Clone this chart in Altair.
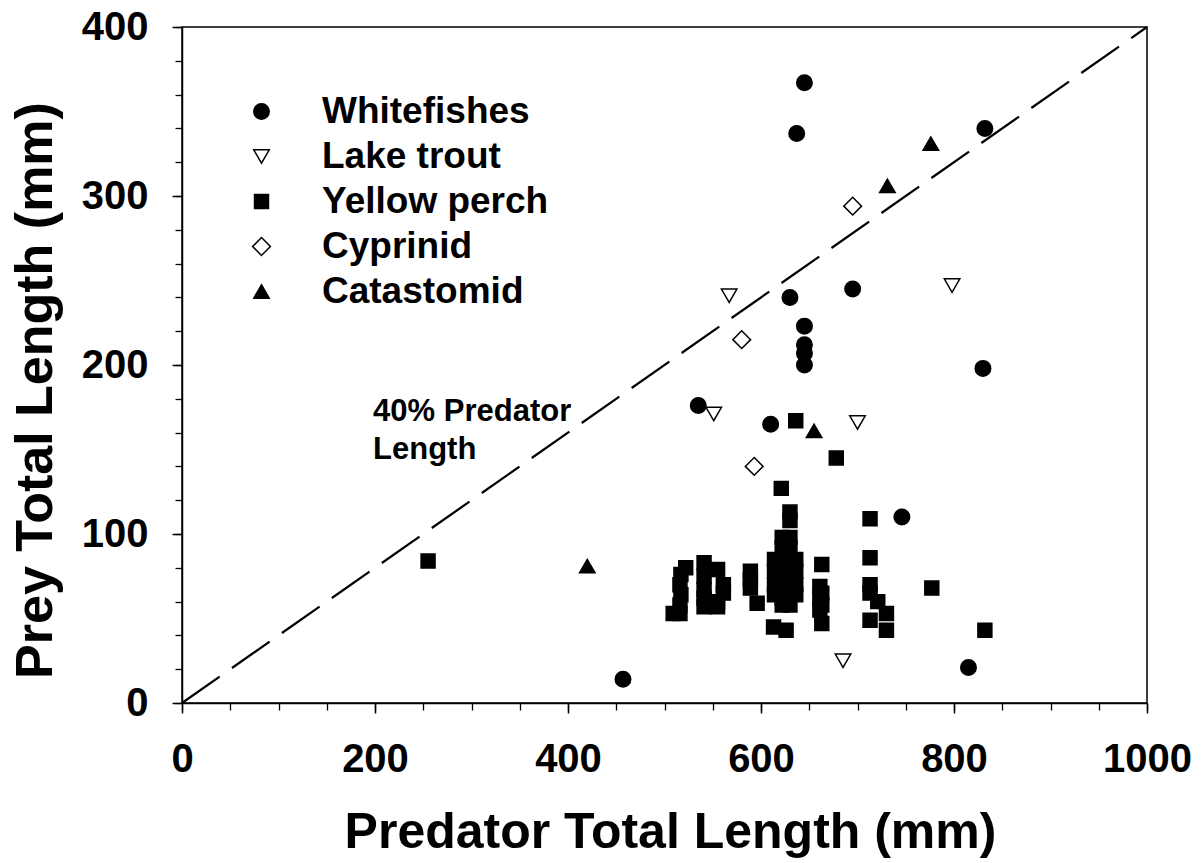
import altair as alt
import pandas as pd

# Prey species plotted, in legend order
species = ["Whitefishes", "Lake trout", "Yellow perch", "Cyprinid", "Catastomid"]

# Predator total length (mm) vs prey total length (mm), by prey species
whitefish_x = [457, 535, 610, 630, 637, 645, 645, 645, 645, 645, 695, 746, 815, 830, 832]
whitefish_y = [14, 176, 165, 240, 337, 367, 223, 212, 207, 200, 245, 110, 21, 198, 340]

laketrout_x = [567, 551, 700, 685, 798]
laketrout_y = [241, 171, 166, 25, 247]

perch_x = [255,
           509, 516, 516, 517, 516, 517, 522,
           541, 541, 541, 541, 541,
           555, 561, 561, 555, 555,
           589, 589, 589, 596,
           613, 626, 621, 630, 630, 622, 630, 622, 630, 614, 622, 636,
           614, 628, 636, 614, 622, 636, 614, 622, 636, 622, 630,
           663, 661, 663, 661, 663, 661, 663,
           713, 713, 713, 713, 721, 713, 730, 730,
           777, 832, 636, 678]
perch_y = [84,
           53, 53, 58, 64, 70, 76, 80,
           83, 75, 67, 62, 57,
           79, 70, 65, 60, 57,
           78, 73, 68, 59,
           45, 43, 127, 113, 108, 98, 98, 92, 92, 85, 85, 85,
           78, 78, 78, 70, 70, 70, 64, 62, 64, 58, 58,
           82, 69, 65, 62, 58, 55, 47,
           109, 86, 70, 65, 60, 49, 53, 43,
           68, 43, 167, 145]

cyprinid_x = [580, 593, 695]
cyprinid_y = [215, 140, 294]

catastomid_x = [420, 655, 731, 776]
catastomid_y = [81, 161, 306, 331]

# Reference line: prey length equal to 40% of predator length
line_x = [0, 1000]
line_y = [0.4 * v for v in line_x]

# Label for the reference line
note_x = [198]
note_y = [167]
note_text = ["40% Predator\nLength"]

FONT = "Liberation Sans"

series = [
    ("Whitefishes", whitefish_x, whitefish_y),
    ("Lake trout", laketrout_x, laketrout_y),
    ("Yellow perch", perch_x, perch_y),
    ("Cyprinid", cyprinid_x, cyprinid_y),
    ("Catastomid", catastomid_x, catastomid_y),
]
rows = []
for name, xs, ys in series:
    for xv, yv in zip(xs, ys):
        rows.append({"Species": name, "Predator": xv, "Prey": yv})
points_df = pd.DataFrame(rows)
line_df = pd.DataFrame({"Predator": line_x, "Prey": line_y})
note_df = pd.DataFrame({"Predator": note_x, "Prey": note_y, "label": note_text})

x_scale = alt.Scale(domain=[0, 1000], nice=False, zero=False)
y_scale = alt.Scale(domain=[0, 400], nice=False, zero=False)

shape_range = [
    "circle",
    "triangle-down",
    "M-0.9,-0.9H0.9V0.9H-0.9Z",
    "M0,-1.15L1.15,0L0,1.15L-1.15,0Z",
    "triangle-up",
]
fill_range = ["black", "white", "black", "white", "black"]
stroke_range = ["black"] * len(species)

axis_common = dict(
    domainColor="black", tickColor="black", labelColor="black", titleColor="black",
    labelFont=FONT, labelFontWeight="bold", labelFontSize=40,
    titleFont=FONT, titleFontWeight="bold",
    grid=False,
)

x_major = alt.Axis(
    values=list(range(0, 1001, 200)), format="d", tickSize=10, tickWidth=1.5,
    domainWidth=1.5, labelPadding=26, labelFlush=False, labelOverlap=False,
    title="Predator Total Length (mm)", titleFontSize=50,
    titleX=488, titleY=144, titleBaseline="alphabetic", titleAlign="center",
    orient="bottom", **axis_common,
)
y_major = alt.Axis(
    values=list(range(0, 401, 100)), format="d", tickSize=10, tickWidth=1.5,
    domainWidth=1.5, labelPadding=24, labelFlush=False, labelOverlap=False,
    title="Prey Total Length (mm)", titleFontSize=52,
    titleX=-131, titleY=363, titleBaseline="alphabetic", titleAlign="center",
    titleAngle=270, orient="left", **axis_common,
)
x_minor = alt.Axis(
    values=list(range(0, 1001, 50)), tickSize=7, tickWidth=1.3, tickColor="black",
    labels=False, domain=False, title=None, grid=False, orient="bottom",
)
y_minor = alt.Axis(
    values=list(range(0, 401, 20)), tickSize=7, tickWidth=1.3, tickColor="black",
    labels=False, domain=False, title=None, grid=False, orient="left",
)


def species_legend():
    return alt.Legend(
        title=None, orient="none", legendX=61, legendY=66, padding=0,
        rowPadding=7, labelOffset=42, symbolSize=240,
        symbolStrokeColor="black", symbolStrokeWidth=1.5,
        labelFont=FONT, labelFontSize=37, labelFontWeight="bold",
        labelColor="black", labelLimit=0,
    )


ref_line = alt.Chart(line_df).mark_line(
    color="black", strokeWidth=2.2, strokeDash=[46, 15]
).encode(
    x=alt.X("Predator:Q", scale=x_scale, axis=x_minor),
    y=alt.Y("Prey:Q", scale=y_scale, axis=y_minor),
)

points = alt.Chart(points_df).mark_point(
    strokeWidth=1.5, opacity=1, fillOpacity=1, strokeOpacity=1, size=240
).encode(
    x=alt.X("Predator:Q", scale=x_scale, axis=x_major),
    y=alt.Y("Prey:Q", scale=y_scale, axis=y_major),
    shape=alt.Shape(
        "Species:N",
        scale=alt.Scale(domain=species, range=shape_range),
        legend=species_legend(),
    ),
    fill=alt.Fill(
        "Species:N",
        scale=alt.Scale(domain=species, range=fill_range),
        legend=species_legend(),
    ),
    stroke=alt.Stroke(
        "Species:N",
        scale=alt.Scale(domain=species, range=stroke_range),
        legend=species_legend(),
    ),
)

note = alt.Chart(note_df).mark_text(
    align="left", baseline="alphabetic", font=FONT, fontSize=31,
    fontWeight="bold", color="black", lineBreak="\n", lineHeight=38,
).encode(
    x=alt.X("Predator:Q", scale=x_scale, axis=None),
    y=alt.Y("Prey:Q", scale=y_scale, axis=None),
    text="label:N",
)

chart = alt.layer(ref_line, points, note).resolve_axis(
    x="independent", y="independent"
).properties(
    width=965,
    height=676,
    autosize=alt.AutoSizeParams(type="none"),
    padding={"left": 182, "top": 27, "right": 55, "bottom": 160},
    background="white",
).configure_view(
    stroke="black", strokeWidth=1.5
)

chart.save("out.html", embed_options={"renderer": "svg", "actions": False})
